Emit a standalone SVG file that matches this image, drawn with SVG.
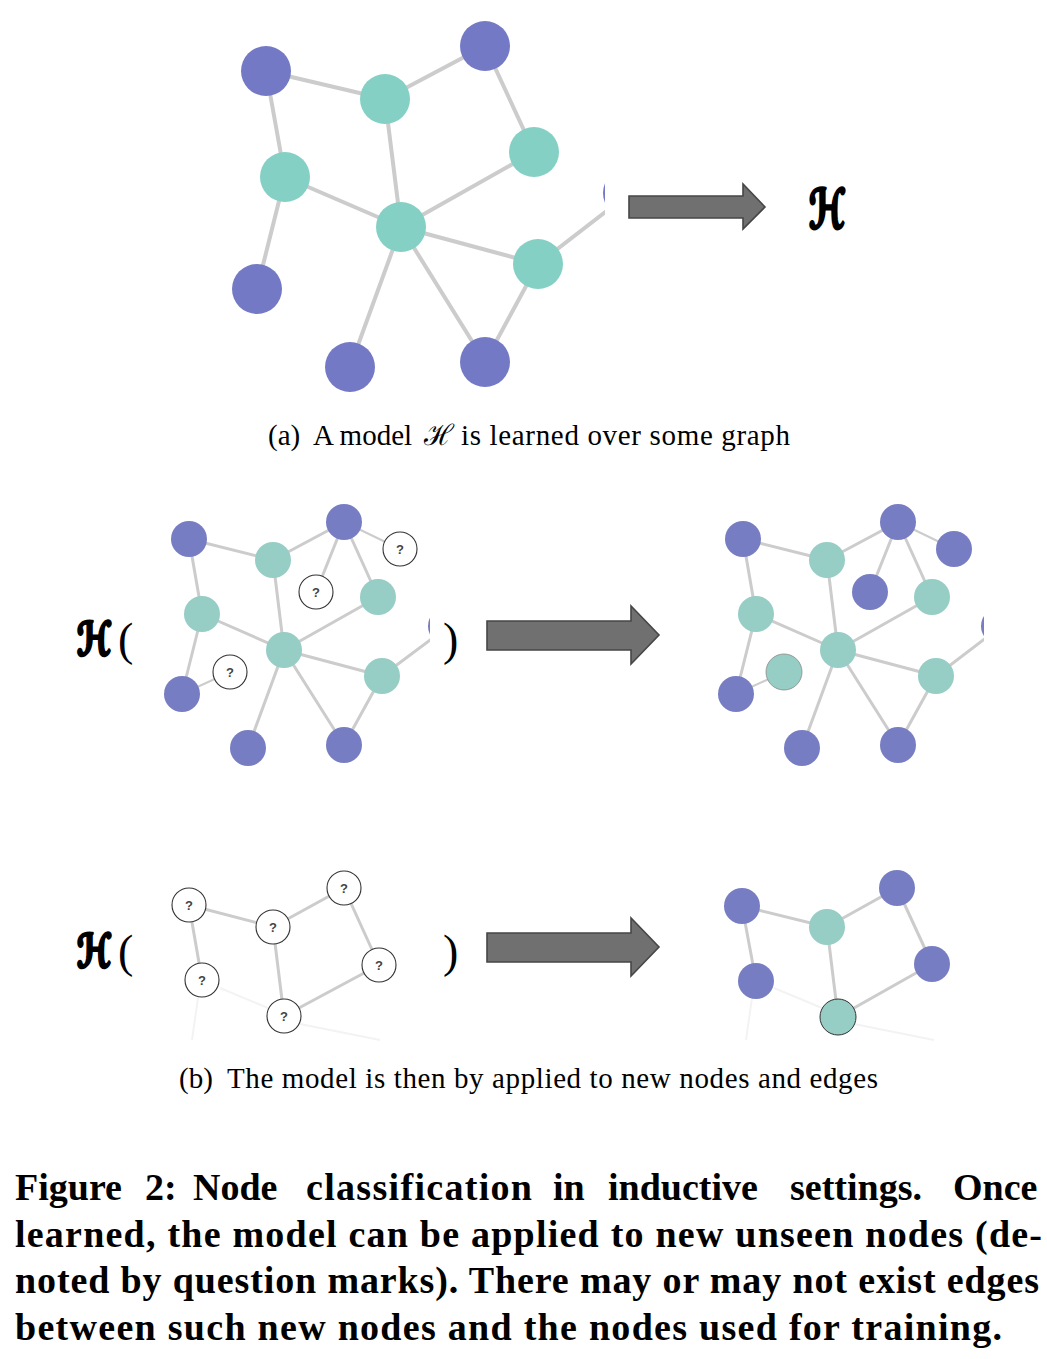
<svg xmlns="http://www.w3.org/2000/svg" width="1047" height="1359" viewBox="0 0 1047 1359">
<style>
.bg{fill:#ffffff}
.pa{fill:#7479c6}
.ta{fill:#84d0c4}
.pb{fill:#777dc2}
.tb{fill:#96cdc4}
.qn{fill:#ffffff;stroke:#333333;stroke-width:1.1}
.qt{font-family:"Liberation Sans","DejaVu Sans",sans-serif;font-size:13px;font-weight:bold;fill:#444444;text-anchor:middle}
.ea line{stroke:#cccccc;stroke-width:4;stroke-linecap:round}
.eb line{stroke:#cccccc;stroke-width:3;stroke-linecap:round}
.eb line.thin{stroke-width:2}
.ghost line{stroke:#f3f3f3;stroke-width:2}
.arrow{fill:#707070;stroke:#464646;stroke-width:1.6;stroke-linejoin:miter}
.bigH{font-family:"DejaVu Sans",sans-serif;font-weight:bold;fill:#000000;stroke:#000000;stroke-width:3.2;stroke-linejoin:round}
.par{font-family:"Liberation Serif",serif;fill:#000000}
.cap{font-family:"Liberation Serif",serif;font-size:29px;fill:#000000}
.fig{font-family:"Liberation Serif",serif;font-size:38px;font-weight:bold;fill:#000000}
</style>
<defs>
<clipPath id="clipA"><rect x="0" y="0" width="605" height="400"/></clipPath>
<clipPath id="clipB1L"><rect x="140" y="490" width="290" height="290"/></clipPath>
<clipPath id="clipB1R"><rect x="700" y="490" width="284" height="290"/></clipPath>
</defs>
<rect class="bg" x="0" y="0" width="1047" height="1359"/>

<!-- (a) graph -->
<g id="connectors-a" class="ea" clip-path="url(#clipA)">
<line x1="266" y1="71" x2="385" y2="99"/>
<line x1="385" y1="99" x2="485" y2="46"/>
<line x1="485" y1="46" x2="534" y2="152"/>
<line x1="266" y1="71" x2="285" y2="177"/>
<line x1="285" y1="177" x2="257" y2="289"/>
<line x1="285" y1="177" x2="401" y2="227"/>
<line x1="385" y1="99" x2="401" y2="227"/>
<line x1="401" y1="227" x2="534" y2="152"/>
<line x1="401" y1="227" x2="538" y2="264"/>
<line x1="401" y1="227" x2="350" y2="367"/>
<line x1="401" y1="227" x2="485" y2="362"/>
<line x1="538" y1="264" x2="485" y2="362"/>
<line x1="538" y1="264" x2="626" y2="196"/>
</g>
<g id="a-p1"><circle class="pa" cx="266" cy="71" r="25"/></g>
<g id="a-p2"><circle class="pa" cx="485" cy="46" r="25"/></g>
<g id="a-t1"><circle class="ta" cx="385" cy="99" r="25"/></g>
<g id="a-t2"><circle class="ta" cx="534" cy="152" r="25"/></g>
<g id="a-t3"><circle class="ta" cx="285" cy="177" r="25"/></g>
<g id="a-t4"><circle class="ta" cx="401" cy="227" r="25"/></g>
<g id="a-t5"><circle class="ta" cx="538" cy="264" r="25"/></g>
<g id="a-p3"><circle class="pa" cx="257" cy="289" r="25"/></g>
<g id="a-p4"><circle class="pa" cx="350" cy="367" r="25"/></g>
<g id="a-p5"><circle class="pa" cx="485" cy="362" r="25"/></g>
<g id="a-p6" clip-path="url(#clipA)"><circle class="pa" cx="628" cy="193" r="25"/></g>

<g id="arrow-a"><path class="arrow" d="M629,196 H743 V184 L765,207 L743,229 V218 H629 Z"/></g>
<g id="H-a"><text class="bigH" x="809" y="228" font-size="54" textLength="36" lengthAdjust="spacingAndGlyphs">ℋ</text></g>
<g id="caption-a">
<text class="cap" x="268" y="445">(a)</text>
<text class="cap" x="313" y="445">A model</text>
<text class="cap" x="424" y="445" textLength="30" lengthAdjust="spacingAndGlyphs">ℋ</text>
<text class="cap" x="461" y="445" textLength="329" lengthAdjust="spacing">is learned over some graph</text>
</g>

<!-- (b) row 1 left -->
<g id="H-b1"><text class="bigH" x="77" y="655" font-size="46" textLength="34" lengthAdjust="spacingAndGlyphs">ℋ</text><text class="par" x="118" y="655" font-size="46">(</text></g>
<g id="close-b1"><text class="par" x="443" y="655" font-size="46">)</text></g>
<g id="connectors-b1L" class="eb" clip-path="url(#clipB1L)">
<line x1="189" y1="539" x2="273" y2="560"/>
<line x1="273" y1="560" x2="344" y2="522"/>
<line class="thin" x1="344" y1="522" x2="400" y2="549"/>
<line x1="344" y1="522" x2="316" y2="592"/>
<line x1="344" y1="522" x2="378" y2="597"/>
<line x1="189" y1="539" x2="202" y2="614"/>
<line x1="202" y1="614" x2="182" y2="694"/>
<line class="thin" x1="182" y1="694" x2="230" y2="672"/>
<line x1="202" y1="614" x2="284" y2="650"/>
<line x1="273" y1="560" x2="284" y2="650"/>
<line x1="284" y1="650" x2="378" y2="597"/>
<line x1="284" y1="650" x2="382" y2="676"/>
<line x1="284" y1="650" x2="248" y2="748"/>
<line x1="284" y1="650" x2="344" y2="745"/>
<line x1="382" y1="676" x2="344" y2="745"/>
<line x1="382" y1="676" x2="446" y2="628"/>
</g>
<g id="b1L-a"><circle class="pb" cx="189" cy="539" r="18"/></g>
<g id="b1L-b"><circle class="tb" cx="273" cy="560" r="18"/></g>
<g id="b1L-c"><circle class="pb" cx="344" cy="522" r="18"/></g>
<g id="b1L-d"><circle class="qn" cx="400" cy="549" r="17"/><text class="qt" x="400" y="554">?</text></g>
<g id="b1L-e"><circle class="qn" cx="316" cy="592" r="17"/><text class="qt" x="316" y="597">?</text></g>
<g id="b1L-f"><circle class="tb" cx="378" cy="597" r="18"/></g>
<g id="b1L-g"><circle class="tb" cx="202" cy="614" r="18"/></g>
<g id="b1L-h"><circle class="tb" cx="284" cy="650" r="18"/></g>
<g id="b1L-i"><circle class="qn" cx="230" cy="672" r="17"/><text class="qt" x="230" y="677">?</text></g>
<g id="b1L-j"><circle class="tb" cx="382" cy="676" r="18"/></g>
<g id="b1L-k"><circle class="pb" cx="182" cy="694" r="18"/></g>
<g id="b1L-l"><circle class="pb" cx="248" cy="748" r="18"/></g>
<g id="b1L-m"><circle class="pb" cx="344" cy="745" r="18"/></g>
<g id="b1L-n" clip-path="url(#clipB1L)"><circle class="pb" cx="446" cy="626" r="18"/></g>

<g id="arrow-b1"><path class="arrow" d="M487,621 H631 V606 L659,635 L631,664 V650 H487 Z"/></g>

<!-- (b) row 1 right -->
<g id="connectors-b1R" class="eb" clip-path="url(#clipB1R)">
<line x1="743" y1="539" x2="827" y2="560"/>
<line x1="827" y1="560" x2="898" y2="522"/>
<line class="thin" x1="898" y1="522" x2="954" y2="549"/>
<line x1="898" y1="522" x2="870" y2="592"/>
<line x1="898" y1="522" x2="932" y2="597"/>
<line x1="743" y1="539" x2="756" y2="614"/>
<line x1="756" y1="614" x2="736" y2="694"/>
<line class="thin" x1="736" y1="694" x2="784" y2="672"/>
<line x1="756" y1="614" x2="838" y2="650"/>
<line x1="827" y1="560" x2="838" y2="650"/>
<line x1="838" y1="650" x2="932" y2="597"/>
<line x1="838" y1="650" x2="936" y2="676"/>
<line x1="838" y1="650" x2="802" y2="748"/>
<line x1="838" y1="650" x2="898" y2="745"/>
<line x1="936" y1="676" x2="898" y2="745"/>
<line x1="936" y1="676" x2="999" y2="628"/>
</g>
<g id="b1R-a"><circle class="pb" cx="743" cy="539" r="18"/></g>
<g id="b1R-b"><circle class="tb" cx="827" cy="560" r="18"/></g>
<g id="b1R-c"><circle class="pb" cx="898" cy="522" r="18"/></g>
<g id="b1R-d"><circle class="pb" cx="954" cy="549" r="18"/></g>
<g id="b1R-e"><circle class="pb" cx="870" cy="592" r="18"/></g>
<g id="b1R-f"><circle class="tb" cx="932" cy="597" r="18"/></g>
<g id="b1R-g"><circle class="tb" cx="756" cy="614" r="18"/></g>
<g id="b1R-h"><circle class="tb" cx="838" cy="650" r="18"/></g>
<g id="b1R-i"><circle class="tb" cx="784" cy="672" r="18" stroke="#8a8a8a" stroke-width="0.8"/></g>
<g id="b1R-j"><circle class="tb" cx="936" cy="676" r="18"/></g>
<g id="b1R-k"><circle class="pb" cx="736" cy="694" r="18"/></g>
<g id="b1R-l"><circle class="pb" cx="802" cy="748" r="18"/></g>
<g id="b1R-m"><circle class="pb" cx="898" cy="745" r="18"/></g>
<g id="b1R-n" clip-path="url(#clipB1R)"><circle class="pb" cx="999" cy="626" r="18"/></g>

<!-- (b) row 2 left -->
<g id="H-b2"><text class="bigH" x="77" y="967" font-size="46" textLength="34" lengthAdjust="spacingAndGlyphs">ℋ</text><text class="par" x="118" y="967" font-size="46">(</text></g>
<g id="close-b2"><text class="par" x="443" y="967" font-size="46">)</text></g>
<g id="ghost-b2" class="ghost">
<line x1="198" y1="998" x2="192" y2="1040"/>
<line x1="220" y1="988" x2="268" y2="1008"/>
<line x1="300" y1="1024" x2="380" y2="1040"/>
<line x1="752" y1="998" x2="746" y2="1040"/>
<line x1="774" y1="988" x2="822" y2="1008"/>
<line x1="854" y1="1024" x2="934" y2="1040"/>
</g>
<g id="connectors-b2L" class="eb">
<line x1="189" y1="905" x2="273" y2="927"/>
<line x1="273" y1="927" x2="344" y2="888"/>
<line x1="189" y1="905" x2="202" y2="980"/>
<line x1="273" y1="927" x2="284" y2="1016"/>
<line x1="344" y1="888" x2="379" y2="965"/>
<line x1="379" y1="965" x2="284" y2="1016"/>
</g>
<g id="b2L-a"><circle class="qn" cx="189" cy="905" r="17"/><text class="qt" x="189" y="910">?</text></g>
<g id="b2L-b"><circle class="qn" cx="273" cy="927" r="17"/><text class="qt" x="273" y="932">?</text></g>
<g id="b2L-c"><circle class="qn" cx="344" cy="888" r="17"/><text class="qt" x="344" y="893">?</text></g>
<g id="b2L-d"><circle class="qn" cx="202" cy="980" r="17"/><text class="qt" x="202" y="985">?</text></g>
<g id="b2L-e"><circle class="qn" cx="379" cy="965" r="17"/><text class="qt" x="379" y="970">?</text></g>
<g id="b2L-f"><circle class="qn" cx="284" cy="1016" r="17"/><text class="qt" x="284" y="1021">?</text></g>

<g id="arrow-b2"><path class="arrow" d="M487,933 H631 V918 L659,947 L631,976 V962 H487 Z"/></g>

<!-- (b) row 2 right -->
<g id="connectors-b2R" class="eb">
<line x1="742" y1="906" x2="827" y2="927"/>
<line x1="827" y1="927" x2="897" y2="888"/>
<line x1="742" y1="906" x2="756" y2="981"/>
<line x1="827" y1="927" x2="838" y2="1017"/>
<line x1="897" y1="888" x2="932" y2="964"/>
<line x1="932" y1="964" x2="838" y2="1017"/>
</g>
<g id="b2R-a"><circle class="pb" cx="742" cy="906" r="18"/></g>
<g id="b2R-b"><circle class="tb" cx="827" cy="927" r="18"/></g>
<g id="b2R-c"><circle class="pb" cx="897" cy="888" r="18"/></g>
<g id="b2R-d"><circle class="pb" cx="756" cy="981" r="18"/></g>
<g id="b2R-e"><circle class="pb" cx="932" cy="964" r="18"/></g>
<g id="b2R-f"><circle class="tb" cx="838" cy="1017" r="18" stroke="#333333" stroke-width="1"/></g>

<g id="caption-b">
<text class="cap" x="179" y="1088">(b)</text>
<text class="cap" x="227" y="1088" textLength="651" lengthAdjust="spacing">The model is then by applied to new nodes and edges</text>
</g>

<g id="figure-caption">
<text class="fig" x="15" y="1200">Figure</text>
<text class="fig" x="145" y="1200">2:</text>
<text class="fig" x="193" y="1200">Node</text>
<text class="fig" x="306" y="1200" textLength="226" lengthAdjust="spacing">classification</text>
<text class="fig" x="553" y="1200">in</text>
<text class="fig" x="608" y="1200">inductive</text>
<text class="fig" x="790" y="1200">settings.</text>
<text class="fig" x="953" y="1200">Once</text>
<text class="fig" x="15" y="1247" textLength="1027" lengthAdjust="spacing">learned, the model can be applied to new unseen nodes (de-</text>
<text class="fig" x="15" y="1293" textLength="1024" lengthAdjust="spacing">noted by question marks). There may or may not exist edges</text>
<text class="fig" x="15" y="1340" textLength="987" lengthAdjust="spacing">between such new nodes and the nodes used for training.</text>
</g>
</svg>
